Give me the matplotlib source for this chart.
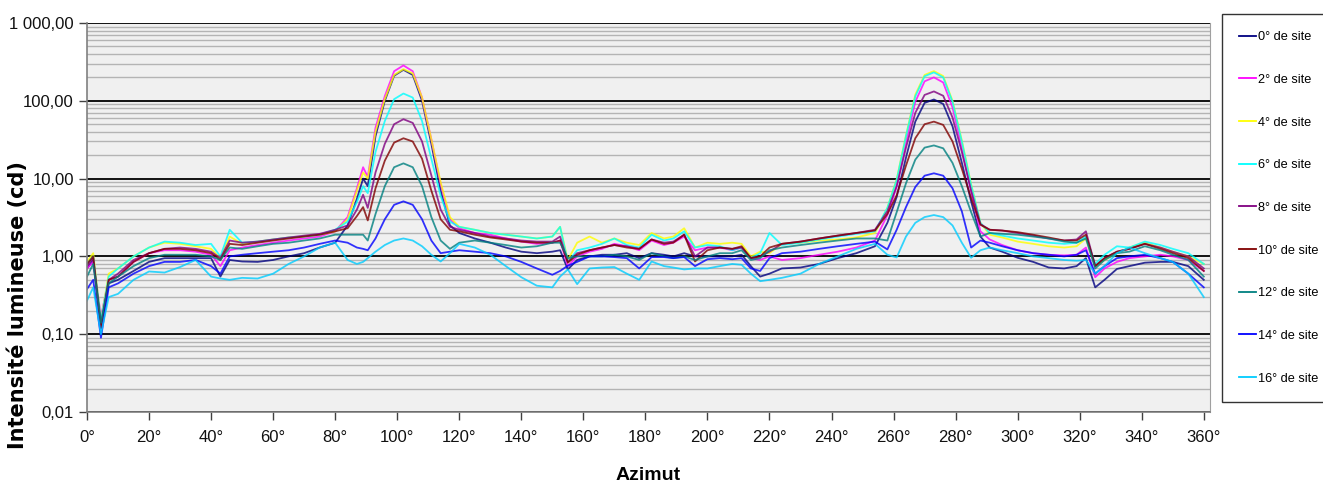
import numpy as np
import matplotlib.pyplot as plt
from matplotlib.ticker import LogLocator, NullFormatter

# azimuth grid (degrees)
azimut = [0, 2, 4.5, 7, 10, 15, 20, 25, 30, 35, 40, 43, 46, 50, 55, 60, 65, 70, 75, 80,
          84, 87, 89, 90.5, 93, 96, 99, 102, 105, 108, 111, 114, 117, 120,
          125, 130, 135, 140, 145, 150, 152.5, 155, 158, 162,
          166, 170, 174, 178, 182, 186, 189, 192.5, 196, 200,
          204, 208, 211, 214, 217, 220, 224, 230, 236, 242, 248,
          254, 258, 261, 264, 267, 270, 273, 276, 279, 282, 285, 288, 291,
          295, 300, 305, 310, 315, 319, 322, 325, 328, 332, 336, 341, 346, 350, 355, 360]

site_0 = [0.7, 0.9, 0.12, 0.45, 0.5, 0.65, 0.85, 0.95, 0.95, 0.95, 0.95, 0.55, 0.9, 0.86, 0.85, 0.9, 1.0, 1.1, 1.3, 1.5,
          2.5, 5.5, 10, 8, 35, 100, 210, 250, 215, 100, 28, 7, 2.5, 2.0,
          1.7, 1.5, 1.3, 1.15, 1.1, 1.15, 1.2, 0.68, 0.9, 1.0,
          1.05, 1.05, 1.1, 0.95, 1.1, 1.05, 1.0, 1.1, 1.0, 1.0,
          1.0, 1.0, 1.05, 0.75, 0.55, 0.6, 0.7, 0.72, 0.8, 0.95, 1.1,
          1.35, 2.7, 5.8, 18.6, 54, 94, 104, 91, 47, 16, 5.1, 1.8, 1.3,
          1.15, 0.96, 0.85, 0.72, 0.7, 0.75, 0.95, 0.4, 0.5, 0.69, 0.75, 0.83, 0.85, 0.85, 0.75, 0.5]

site_2 = [0.7, 0.85, 0.17, 0.5, 0.55, 0.85, 1.1, 1.2, 1.2, 1.15, 1.05, 0.75, 1.2, 1.3, 1.4, 1.5, 1.6, 1.7, 1.8, 2.1,
          3.2, 7.5, 14, 10.5, 45, 115, 240, 285, 240, 110, 32, 8.5, 3.0, 2.3,
          2.0, 1.9, 1.7, 1.55, 1.45, 1.5, 1.6, 0.75, 1.0, 1.15,
          1.25, 1.45, 1.35, 1.2, 1.6, 1.4, 1.5, 1.8, 1.2, 1.3,
          1.3, 1.2, 1.3, 0.95, 0.9, 1.0, 0.9, 0.95, 1.05, 1.15, 1.3,
          1.6, 3.4, 7.9, 29, 97, 178, 200, 172, 82, 25, 6.8, 2.1, 1.65,
          1.4, 1.2, 1.1, 1.05, 1.03, 1.05, 1.3, 0.54, 0.7, 0.85, 0.95, 1.0, 1.05, 1.0, 0.9, 0.65]

site_4 = [0.85, 1.1, 0.15, 0.6, 0.7, 1.0, 1.3, 1.5, 1.45, 1.35, 1.25, 0.95, 1.8, 1.45, 1.55, 1.65, 1.75, 1.8, 1.9, 2.1,
          3.0, 7, 12, 10, 40, 105, 215, 255, 225, 110, 32, 9, 3.2, 2.4,
          2.2, 2.0, 1.9, 1.8, 1.7, 1.8, 2.4, 0.9, 1.5, 1.8,
          1.5, 1.7, 1.5, 1.4, 2.0, 1.7, 1.8, 2.3, 1.3, 1.5,
          1.45, 1.5, 1.45, 1.0, 1.15, 1.1, 1.45, 1.5, 1.6, 1.65, 1.75,
          2.0, 4.2, 9.8, 36, 120, 215, 241, 208, 100, 31, 8.5, 2.7, 1.9,
          1.75, 1.55, 1.45, 1.35, 1.3, 1.35, 1.7, 0.75, 0.9, 1.1, 1.3, 1.5, 1.3, 1.15, 1.0, 0.8]

site_6 = [0.8, 1.0, 0.15, 0.55, 0.7, 1.0, 1.3, 1.55, 1.5, 1.4, 1.45, 1.0, 2.2, 1.5, 1.55, 1.65, 1.75, 1.8, 1.9, 2.2,
          2.8, 5, 8, 6.5, 22, 55, 105, 124, 110, 55, 18, 6, 2.8, 2.4,
          2.2, 2.0, 1.9, 1.8, 1.7, 1.8, 2.4, 0.85, 1.2, 1.3,
          1.45, 1.7, 1.4, 1.3, 1.9, 1.6, 1.7, 2.1, 1.3, 1.4,
          1.35, 1.2, 1.3, 0.95, 1.1, 2.0, 1.4, 1.5, 1.65, 1.8, 1.95,
          2.1, 4.2, 9.6, 35, 114, 207, 232, 200, 97, 30, 8.3, 2.7, 2.0,
          1.85, 1.7, 1.6, 1.5, 1.45, 1.5, 1.8, 0.8, 1.05, 1.35, 1.3, 1.55, 1.4, 1.25, 1.1, 0.8]

site_8 = [0.75, 0.95, 0.13, 0.5, 0.6, 0.9, 1.1, 1.25, 1.3, 1.25, 1.15, 0.95, 1.6, 1.5, 1.55, 1.65, 1.75, 1.85, 1.95, 2.2,
          2.5, 4, 6.2, 4.2, 12, 28, 50, 58, 52, 30, 11, 4, 2.4, 2.2,
          2.0, 1.8, 1.7, 1.6, 1.55, 1.55, 1.8, 0.85, 1.1, 1.2,
          1.3, 1.4, 1.35, 1.25, 1.65, 1.5, 1.55, 1.9, 1.0, 1.3,
          1.3, 1.25, 1.3, 0.95, 1.0, 1.15, 1.45, 1.55, 1.7, 1.85, 2.0,
          2.2, 3.8, 8.0, 25, 70, 119, 132, 116, 61, 22, 7.0, 2.6, 2.2,
          2.15, 2.0, 1.85, 1.7, 1.6, 1.65, 2.1, 0.75, 0.95, 1.15, 1.25, 1.45, 1.3, 1.15, 1.0, 0.7]

site_10 = [0.8, 1.0, 0.12, 0.5, 0.55, 0.85, 1.1, 1.25, 1.25, 1.2, 1.1, 0.9, 1.45, 1.4, 1.5, 1.6, 1.7, 1.8, 1.9, 2.1,
           2.3, 3.3, 4.3, 2.9, 7.5, 17, 29, 33, 30, 18, 7, 3, 2.2, 2.1,
           1.9, 1.75, 1.65, 1.55, 1.5, 1.5, 1.6, 0.83, 1.05, 1.2,
           1.3, 1.4, 1.3, 1.25, 1.65, 1.45, 1.5, 1.9, 0.86, 1.2,
           1.3, 1.25, 1.35, 0.95, 1.0, 1.3, 1.45, 1.55, 1.7, 1.85, 2.0,
           2.15, 3.5, 6.1, 14.7, 33, 50, 54, 49, 30, 13.4, 5.6, 2.55, 2.2,
           2.15, 2.05, 1.9, 1.75, 1.6, 1.6, 1.9, 0.75, 0.95, 1.15, 1.25, 1.45, 1.25, 1.1, 0.95, 0.65]

site_12 = [0.55, 0.8, 0.14, 0.45, 0.55, 0.75, 0.95, 1.05, 1.05, 1.05, 1.0, 0.9, 1.3, 1.25, 1.35, 1.45, 1.5, 1.6, 1.7, 1.9,
           1.9, 1.9, 1.9, 1.6, 3.5, 8, 14, 15.7, 14, 8, 3.2, 1.6, 1.25, 1.5,
           1.6, 1.5, 1.4, 1.3, 1.35, 1.5, 1.5, 0.95, 1.0, 1.0,
           1.0, 1.05, 1.0, 0.9, 1.1, 1.0, 0.95, 1.0, 0.9, 1.0,
           1.1, 1.1, 1.2, 0.9, 0.95, 1.2, 1.3, 1.4, 1.5, 1.6, 1.7,
           1.7, 1.6, 3.7, 8.7, 17.5, 25, 26.7, 24.5, 15.9, 8.0, 3.7, 1.8, 2.0,
           1.95, 1.9, 1.8, 1.7, 1.55, 1.5, 1.7, 0.7, 0.9, 1.1, 1.15, 1.35, 1.2, 1.05, 0.9, 0.55]

site_14 = [0.38, 0.5, 0.09, 0.4, 0.45, 0.6, 0.75, 0.85, 0.85, 0.9, 0.75, 0.6, 1.0, 1.05, 1.1, 1.15, 1.2, 1.3, 1.45, 1.6,
           1.5, 1.3, 1.25, 1.2, 1.7, 3.0, 4.6, 5.1, 4.6, 3.0, 1.6, 1.1, 1.15, 1.2,
           1.15, 1.1, 1.0, 0.85, 0.7, 0.58, 0.65, 0.76, 0.85, 1.0,
           1.0, 0.98, 0.95, 0.7, 0.98, 0.98, 0.95, 0.98, 0.75, 0.92,
           0.95, 0.92, 0.95, 0.7, 0.65, 0.95, 1.1, 1.15, 1.25, 1.35, 1.45,
           1.55, 1.23, 2.2, 4.3, 7.8, 10.9, 11.7, 10.9, 7.5, 3.8, 1.3, 1.6, 1.5,
           1.35, 1.2, 1.1, 1.05, 1.0, 1.05, 1.2, 0.6, 0.75, 0.95, 1.0, 1.05, 0.95, 0.85, 0.6, 0.4]

site_16 = [0.27, 0.4, 0.1, 0.3, 0.33, 0.5, 0.64, 0.62, 0.73, 0.9, 0.55, 0.52, 0.5, 0.53, 0.52, 0.6, 0.8, 1.0, 1.3, 1.5,
           0.9, 0.8, 0.85, 0.95, 1.15, 1.4, 1.6, 1.7, 1.6, 1.35, 1.05, 0.86, 1.1, 1.45,
           1.3, 1.05, 0.75, 0.54, 0.42, 0.4, 0.55, 0.68, 0.44, 0.7,
           0.72, 0.73, 0.6, 0.5, 0.86, 0.75, 0.72, 0.68, 0.7, 0.7,
           0.75, 0.8, 0.78, 0.6, 0.48, 0.5, 0.53, 0.6, 0.8, 1.0, 1.25,
           1.45, 1.05, 0.97, 1.8, 2.7, 3.2, 3.4, 3.2, 2.5, 1.5, 0.96, 1.2, 1.3,
           1.2, 1.1, 1.0, 0.95, 0.9, 0.88, 0.9, 0.6, 0.75, 1.1, 1.3, 1.1, 0.95, 0.85, 0.6, 0.3]

series_labels = ["0° de site", "2° de site", "4° de site", "6° de site", "8° de site",
                 "10° de site", "12° de site", "14° de site", "16° de site"]
y_ticks = [0.01, 0.1, 1, 10, 100, 1000]
y_tick_labels = ["0,01", "0,10", "1,00", "10,00", "100,00", "1 000,00"]
x_ticks = list(range(0, 361, 20))
x_tick_labels = [f"{t}°" for t in x_ticks]

series = [site_0, site_2, site_4, site_6, site_8, site_10, site_12, site_14, site_16]
colors = ["#000080", "#ff00ff", "#ffff00", "#00ffff", "#800080",
          "#800000", "#008080", "#0000ff", "#00ccff"]

plt.rcParams["font.family"] = ["Liberation Sans", "DejaVu Sans"]

W, H = 1323, 492
fig = plt.figure(figsize=(W / 100, H / 100), dpi=100)
ax = fig.add_axes([87 / W, 1 - 412 / H, (1210 - 87) / W, (412 - 23) / H])
ax.set_facecolor("#f0f0f0")

for vals, lab, col in zip(series, series_labels, colors):
    assert len(vals) == len(azimut), lab
    ax.plot(azimut, vals, color=col, linewidth=1.3, alpha=0.8, label=lab)

ax.set_yscale("log")
ax.set_ylim(0.01, 1000)
ax.set_xlim(0, 362)

ax.set_yticks(y_ticks)
ax.set_yticklabels(y_tick_labels)
ax.yaxis.set_minor_locator(LogLocator(base=10, subs=np.arange(2, 10)))
ax.yaxis.set_minor_formatter(NullFormatter())
ax.set_xticks(x_ticks)
ax.set_xticklabels(x_tick_labels)

ax.grid(True, which="minor", axis="y", color="#b4b4b4", linewidth=1.0, zorder=0)
ax.grid(True, which="major", axis="y", color="#000000", linewidth=1.3, zorder=0)
ax.set_axisbelow(True)

ax.tick_params(axis="both", which="major", direction="out", length=6, width=1,
               color="#404040", labelsize=12, labelcolor="#111111")
ax.tick_params(axis="y", which="minor", length=0)
ax.tick_params(axis="x", pad=7)

for side in ["left", "bottom"]:
    ax.spines[side].set_color("#808080")
    ax.spines[side].set_linewidth(1.2)
ax.spines["right"].set_color("#a0a0a0")
ax.spines["top"].set_visible(False)

ax.set_xlabel("Azimut", fontsize=14, fontweight="bold", labelpad=16)
fig.text(18 / W, 1 - 305 / H, "Intensité lumineuse (cd)", rotation=90,
         ha="center", va="center", fontsize=15, fontweight="bold",
         family=["DejaVu Sans"])

leg = fig.legend(loc="upper left", bbox_to_anchor=(1222 / W, 1 - 14 / H),
                 frameon=True, fancybox=False, fontsize=9.2, labelspacing=2.4,
                 handlelength=1.3, handletextpad=0.15, borderpad=1.35,
                 borderaxespad=0)
leg.get_frame().set_edgecolor("#000000")
leg.get_frame().set_linewidth(1.0)
for line in leg.get_lines():
    line.set_alpha(1.0)

fig.savefig("out.png", dpi=100)
